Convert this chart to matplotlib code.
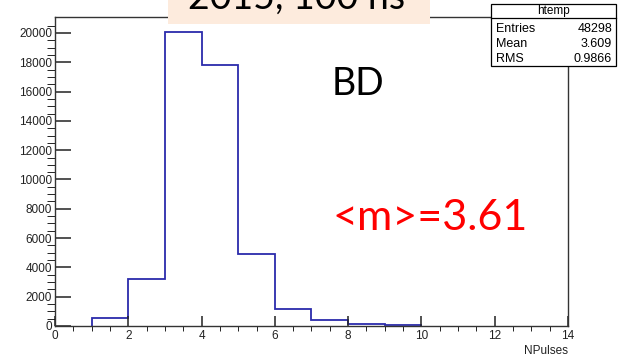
# NPulses histogram (ROOT style) with slide annotations
import numpy as np
import matplotlib.pyplot as plt
from matplotlib.patches import Rectangle
from matplotlib.lines import Line2D

# data
bin_edges = [1, 2, 3, 4, 5, 6, 7, 8, 9, 10]
counts = [560, 3190, 20060, 17840, 4915, 1140, 390, 140, 60]
stat_names = ['Entries', 'Mean', 'RMS']
stat_values = ['48298', '3.609', '0.9866']
x_ticks = [0, 2, 4, 6, 8, 10, 12, 14]
y_ticks = [0, 2000, 4000, 6000, 8000, 10000, 12000, 14000, 16000, 18000, 20000]

W, H = 621, 356
fig = plt.figure(figsize=(W / 100, H / 100), dpi=100)

def fx(px):
    return px / W

def fy(py):
    return 1 - py / H

ax = fig.add_axes([fx(55), fy(326), fx(568) - fx(55), fy(17) - fy(326)])
ax.stairs(counts, bin_edges, color='#2b2bab', linewidth=1.3)
ax.set_xlim(0, 14)
ax.set_ylim(0, 21090)
ax.set_xticks(x_ticks)
ax.set_xticks(np.arange(0, 14.01, 0.5), minor=True)
ax.set_yticks(y_ticks)
ax.set_yticks(np.arange(0, 21000, 500), minor=True)
ax.tick_params(direction='in', labelsize=8.5, colors='#222222', width=1.1)
ax.tick_params(axis='y', which='major', length=11.5, pad=2)
ax.tick_params(axis='y', which='minor', length=5.5)
ax.tick_params(axis='x', which='major', length=7.5, pad=3)
ax.tick_params(axis='x', which='minor', length=3.8)
for lab in ax.get_xticklabels() + ax.get_yticklabels():
    lab.set_family('Liberation Sans')
for s in ax.spines.values():
    s.set_linewidth(1.0)
    s.set_color('#333333')
ax.set_xlabel('NPulses', fontsize=8.5, family='Liberation Sans', color='#222222')
ax.xaxis.set_label_coords(1.0, -0.06)
ax.xaxis.label.set_ha('right')

# stats box
fig.add_artist(Rectangle((fx(491), fy(66)), fx(616) - fx(491), fy(4) - fy(66),
                         transform=fig.transFigure, facecolor='white',
                         edgecolor='black', linewidth=0.9, zorder=5))
fig.add_artist(Line2D([fx(491), fx(616)], [fy(18), fy(18)], transform=fig.transFigure,
                      color='black', linewidth=0.9, zorder=6))
fig.text(fx(553), fy(11), 'htemp', ha='center', va='center', fontsize=8.5,
         family='Liberation Sans', zorder=7)
for i, (n, v) in enumerate(zip(stat_names, stat_values)):
    yy = fy(29 + i * 15)
    fig.text(fx(496), yy, n, ha='left', va='center', fontsize=9,
             family='Liberation Sans', zorder=7)
    fig.text(fx(612), yy, v, ha='right', va='center', fontsize=9,
             family='Liberation Sans', zorder=7)

# slide annotations
fig.add_artist(Rectangle((fx(168), fy(24)), fx(430) - fx(168), fy(0) - fy(24),
                         transform=fig.transFigure, facecolor='#fdebdd',
                         edgecolor='none', zorder=8))
fig.text(fx(188), fy(9), '2015, 100 ns', ha='left', va='baseline', fontsize=27,
         family='Lato', zorder=9)
fig.text(fx(332), fy(95), 'BD', ha='left', va='baseline', fontsize=27,
         family='Lato', zorder=9)
fig.text(fx(332), fy(230), '<m>=3.61', ha='left', va='baseline', fontsize=31,
         family='Lato', color='red', zorder=9)

fig.savefig('out.png', dpi=100)
